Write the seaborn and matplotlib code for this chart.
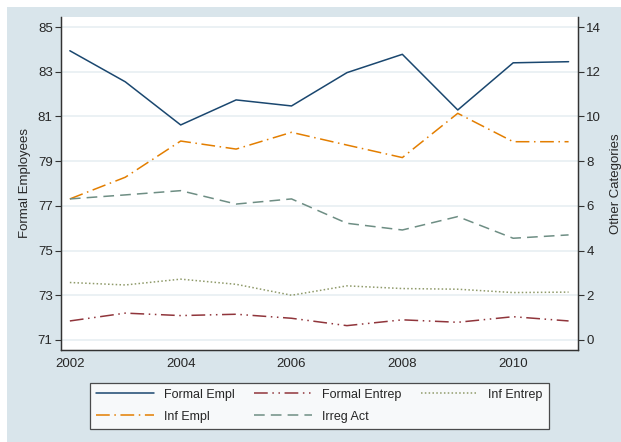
import pandas as pd
import matplotlib
matplotlib.use("Agg")
import matplotlib.pyplot as plt
import seaborn as sns
from matplotlib.patches import Rectangle

years = [2002, 2003, 2004, 2005, 2006, 2007, 2008, 2009, 2010, 2011]
formal_empl = [83.94, 82.55, 80.62, 81.74, 81.47, 82.96, 83.78, 81.29, 83.40, 83.45]
formal_entrep = [0.85, 1.20, 1.09, 1.15, 0.97, 0.64, 0.90, 0.79, 1.04, 0.85]
inf_entrep = [2.57, 2.46, 2.72, 2.49, 2.00, 2.42, 2.30, 2.27, 2.12, 2.14]
inf_empl = [6.31, 7.28, 8.90, 8.54, 9.29, 8.72, 8.16, 10.14, 8.87, 8.87]
irreg_act = [6.31, 6.49, 6.68, 6.08, 6.31, 5.22, 4.92, 5.52, 4.55, 4.70]

df = pd.DataFrame({"year": years, "Formal Empl": formal_empl,
                   "Formal Entrep": formal_entrep, "Inf Entrep": inf_entrep,
                   "Inf Empl": inf_empl, "Irreg Act": irreg_act})

sns.set_style("white")
plt.rcParams['font.family'] = ['Liberation Sans', 'DejaVu Sans']

bg = '#d9e5eb'
grid_col = '#e8eff2'

fig = plt.figure(figsize=(6.21, 4.42), dpi=100)
fig.patch.set_facecolor('white')
fig.patches.append(Rectangle((7/621, 0), 1, 1 - 7/442, transform=fig.transFigure,
                             facecolor=bg, edgecolor='none', zorder=-10))

ax = fig.add_axes([61/621, (442-350)/442, (578-61)/621, (350-17)/442])
ax.set_facecolor('white')
ax2 = ax.twinx()

# dash styles like Stata patterns
styles = {
    "Formal Empl": dict(color='#1a476f', ls='-'),
    "Formal Entrep": dict(color='#90353b', ls=(0, (9, 3, 1, 3, 1, 3))),
    "Inf Entrep": dict(color='#8f9a6a', ls=(0, (1, 1.5))),
    "Inf Empl": dict(color='#e37e00', ls=(0, (9, 3, 1, 3))),
    "Irreg Act": dict(color='#6e8e84', ls=(0, (7, 4))),
}

sns.lineplot(data=df, x="year", y="Formal Empl", ax=ax, lw=1.1,
             color=styles["Formal Empl"]['color'], linestyle='-', label="Formal Empl", legend=False)
for name in ["Formal Entrep", "Inf Entrep", "Inf Empl", "Irreg Act"]:
    sns.lineplot(data=df, x="year", y=name, ax=ax2, lw=1.1,
                 color=styles[name]['color'], linestyle=styles[name]['ls'], label=name, legend=False)

ax.set_xlim(2001.84, 2011.17)
ax.set_ylim(70.55, 85.45)
ax2.set_ylim(-0.45, 14.45)
ax.set_xticks([2002, 2004, 2006, 2008, 2010])
ax.set_yticks(range(71, 86, 2))
ax2.set_yticks(range(0, 15, 2))
ax.yaxis.grid(True, color=grid_col, lw=1.2)
ax.set_axisbelow(True)
ax.set_xlabel("")
ax.set_ylabel("Formal Employees", fontsize=9.5, labelpad=5)
ax2.set_ylabel("Other Categories", fontsize=9.5, labelpad=6)

for a in (ax, ax2):
    a.tick_params(axis='both', direction='out', length=4, width=0.8, labelsize=9.5,
                  color='#333333', pad=2)
    for s in a.spines.values():
        s.set_color('#333333')
        s.set_linewidth(0.9)
    a.spines['top'].set_visible(False)
ax2.tick_params(axis='y', right=True)

h1, l1 = ax.get_legend_handles_labels()
h2, l2 = ax2.get_legend_handles_labels()
handles = h1 + h2
labels = l1 + l2
# order rows like Stata: Formal Empl, Formal Entrep, Inf Entrep / Inf Empl, Irreg Act
order = [0, 3, 1, 4, 2]
leg = fig.legend([handles[i] for i in order], [labels[i] for i in order],
                 loc='lower left', bbox_to_anchor=(90/621, 13/442, (549-90)/621, 49/442),
                 mode='expand', ncol=3, fontsize=9, frameon=True, fancybox=False,
                 handlelength=4.6, handletextpad=0.8, borderpad=0.5, labelspacing=0.8,
                 borderaxespad=0, columnspacing=1.0)
leg.get_frame().set_edgecolor('#222222')
leg.get_frame().set_linewidth(0.9)
leg.get_frame().set_facecolor('white')

fig.savefig("out.png", dpi=100, facecolor=fig.get_facecolor())
